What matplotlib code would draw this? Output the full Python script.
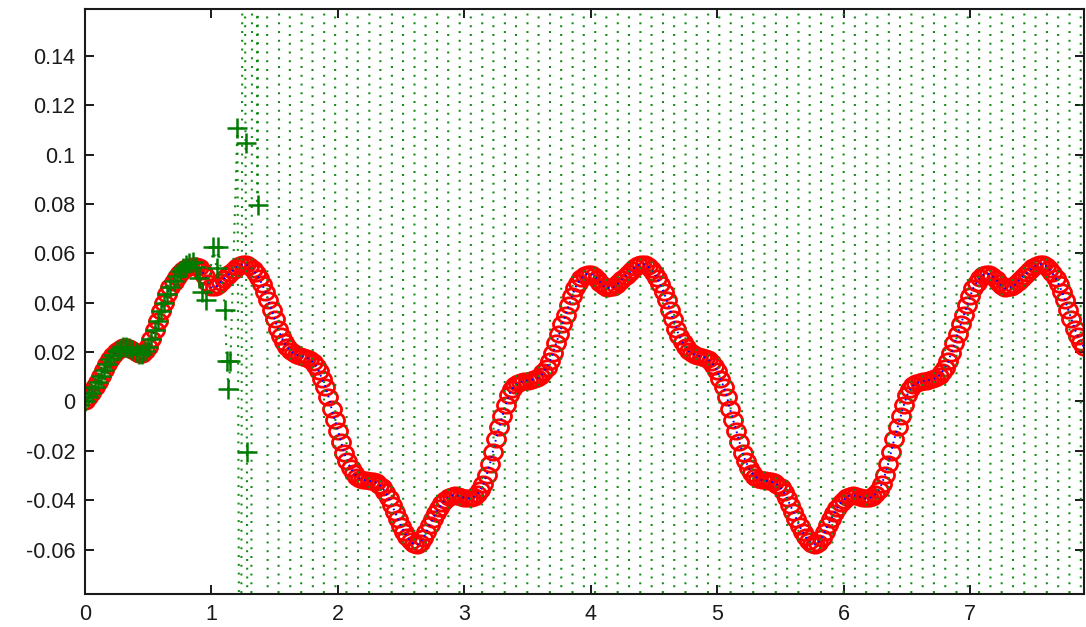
import matplotlib
matplotlib.use('Agg')
import matplotlib.pyplot as plt
import numpy as np
from matplotlib.path import Path
from matplotlib.transforms import Affine2D

plt.rcParams['font.family'] = ['Liberation Sans', 'DejaVu Sans']
plt.rcParams['axes.unicode_minus'] = False
plt.rcParams['lines.scale_dashes'] = False

step = 0.025

# red circles / blue dotted line, x = 0, 0.025, 0.05 ...
# start-up part, x = 0 .. 0.875
y_start = [0.0000, 0.0017, 0.0035, 0.0057, 0.0080, 0.0103, 0.0126, 0.0150,
           0.0172, 0.0190, 0.0204, 0.0214, 0.0219, 0.0220, 0.0217, 0.0210,
           0.0201, 0.0194, 0.0194, 0.0203, 0.0222, 0.0253, 0.0290, 0.0328,
           0.0365, 0.0401, 0.0435, 0.0463, 0.0486, 0.0506, 0.0521, 0.0532,
           0.0540, 0.0546, 0.0550, 0.0549]
# x = 0.9 .. 4.125
y_period1 = [0.0543, 0.0530, 0.0507, 0.0482, 0.0463, 0.0462, 0.0470, 0.0485,
             0.0498, 0.0510, 0.0520, 0.0533, 0.0545, 0.0552, 0.0556, 0.0555,
             0.0548, 0.0535, 0.0520, 0.0500, 0.0475, 0.0445, 0.0410, 0.0372,
             0.0335, 0.0295, 0.0264, 0.0240, 0.0220, 0.0203, 0.0195, 0.0189,
             0.0185, 0.0182, 0.0178, 0.0171, 0.0160, 0.0145, 0.0122, 0.0090,
             0.0060, 0.0020, -0.0030, -0.0075, -0.0118, -0.0165, -0.0210, -0.0243,
             -0.0270, -0.0290, -0.0305, -0.0313, -0.0318, -0.0320, -0.0322, -0.0324,
             -0.0328, -0.0337, -0.0348, -0.0368, -0.0390, -0.0418, -0.0447, -0.0475,
             -0.0505, -0.0530, -0.0550, -0.0566, -0.0577, -0.0580, -0.0572, -0.0553,
             -0.0528, -0.0500, -0.0475, -0.0452, -0.0430, -0.0412, -0.0398, -0.0387,
             -0.0381, -0.0380, -0.0382, -0.0386, -0.0390, -0.0393, -0.0392, -0.0386,
             -0.0375, -0.0360, -0.0335, -0.0298, -0.0255, -0.0203, -0.0152, -0.0105,
             -0.0060, -0.0015, 0.0025, 0.0050, 0.0065, 0.0074, 0.0079, 0.0082,
             0.0085, 0.0087, 0.0090, 0.0094, 0.0103, 0.0118, 0.0137, 0.0163,
             0.0196, 0.0235, 0.0274, 0.0312, 0.0350, 0.0389, 0.0427, 0.0460,
             0.0482, 0.0500, 0.0512, 0.0518, 0.0516, 0.0509, 0.0496, 0.0482,
             0.0468, 0.0458]
# x = 4.15 .. 7.9
y_period2 = [0.0463, 0.0462, 0.0470, 0.0485, 0.0498, 0.0510, 0.0520, 0.0533,
             0.0545, 0.0552, 0.0556, 0.0555, 0.0548, 0.0535, 0.0520, 0.0500,
             0.0475, 0.0445, 0.0410, 0.0372, 0.0335, 0.0295, 0.0264, 0.0240,
             0.0220, 0.0203, 0.0195, 0.0189, 0.0185, 0.0182, 0.0178, 0.0171,
             0.0160, 0.0145, 0.0122, 0.0090, 0.0060, 0.0020, -0.0030, -0.0075,
             -0.0118, -0.0165, -0.0210, -0.0243, -0.0270, -0.0290, -0.0305, -0.0313,
             -0.0318, -0.0320, -0.0322, -0.0324, -0.0328, -0.0337, -0.0348, -0.0368,
             -0.0390, -0.0418, -0.0447, -0.0475, -0.0505, -0.0530, -0.0550, -0.0566,
             -0.0577, -0.0580, -0.0572, -0.0553, -0.0528, -0.0500, -0.0475, -0.0452,
             -0.0430, -0.0412, -0.0398, -0.0387, -0.0381, -0.0380, -0.0382, -0.0386,
             -0.0390, -0.0393, -0.0392, -0.0386, -0.0375, -0.0360, -0.0335, -0.0298,
             -0.0255, -0.0203, -0.0152, -0.0105, -0.0060, -0.0015, 0.0025, 0.0050,
             0.0065, 0.0074, 0.0079, 0.0082, 0.0085, 0.0087, 0.0090, 0.0094,
             0.0103, 0.0118, 0.0137, 0.0163, 0.0196, 0.0235, 0.0274, 0.0312,
             0.0350, 0.0389, 0.0427, 0.0460, 0.0482, 0.0500, 0.0512, 0.0518,
             0.0516, 0.0509, 0.0496, 0.0482, 0.0468, 0.0458,
             0.0463, 0.0462, 0.0470, 0.0485, 0.0498, 0.0510, 0.0520, 0.0533,
             0.0545, 0.0552, 0.0556, 0.0555, 0.0548, 0.0535, 0.0520, 0.0500,
             0.0475, 0.0445, 0.0410, 0.0372, 0.0335, 0.0295, 0.0264, 0.0240,
             0.0220]

red_y = np.array(y_start + y_period1 + y_period2)
red_x = np.arange(len(red_y)) * step

# green + solution: follows the curve, then blows up after x ~ 0.9
green_y_fit = [0.0000, 0.0017, 0.0035, 0.0057, 0.0080, 0.0103, 0.0126, 0.0150,
               0.0172, 0.0190, 0.0204, 0.0214, 0.0219, 0.0220, 0.0217, 0.0210,
               0.0201, 0.0194, 0.0194, 0.0203, 0.0222, 0.0253, 0.0290, 0.0328,
               0.0365, 0.0401, 0.0435, 0.0463, 0.0488, 0.0510, 0.0527, 0.0540,
               0.0552, 0.0562, 0.0566, 0.0545]
green_x_fit = red_x[:len(green_y_fit)]

green_x_kick = [0.900, 0.925, 0.960, 1.015, 1.040, 1.055, 1.108, 1.120, 1.134,
                1.150, 1.205, 1.230, 1.250, 1.269, 1.280, 1.305, 1.335, 1.364]
green_y_kick = [0.0500, 0.0443, 0.0410, 0.0625, 0.0540, 0.0625, 0.0369, 0.0166,
                0.0051, 0.0166, 0.1110, -0.300, 0.400, 0.1046, -0.0206, -0.600,
                0.900, 0.0795]

# off the scale from here on
green_tail_y = [2.4, -2.6, 2.9, -3.1, 3.4, -3.6, 3.9, -4.1, 4.4, -4.6,
                4.9, -5.1, 5.4, -5.6, 5.9, -6.1, 6.4, -6.6, 6.9, -7.1,
                7.4, -7.6, 7.9, -8.1, 8.4, -8.6, 8.9, -9.1, 9.4, -9.6,
                9.9, -10.1, 10.4, -10.6, 10.9, -11.1, 11.4, -11.6, 11.9, -12.1,
                12.4, -12.6, 12.9, -13.1, 13.4, -13.6, 13.9, -14.1, 14.4, -14.6,
                14.9, -15.1, 15.4, -15.6, 15.9, -16.1, 16.4, -16.6, 16.9, -17.1,
                17.4, -17.6, 17.9, -18.1, 18.4, -18.6, 18.9, -19.1, 19.4, -19.6,
                19.9, -20.1, 20.4, -20.6]
green_tail_x = 1.40 + 0.0893 * np.arange(len(green_tail_y))

green_x = np.concatenate([green_x_fit, green_x_kick, green_tail_x])
green_y = np.concatenate([green_y_fit, green_y_kick, green_tail_y])

xticks = [0, 1, 2, 3, 4, 5, 6, 7]
yticks = [-0.06, -0.04, -0.02, 0, 0.02, 0.04, 0.06, 0.08, 0.1, 0.12, 0.14]

fig = plt.figure(figsize=(10.86, 6.27), dpi=100)
ax = fig.add_axes([0.0783, 0.0526, 0.9199, 0.933])

ring = Affine2D().scale(1.0, 0.85).transform_path(Path.unit_circle())
ax.plot(red_x, red_y, linestyle='none', marker=ring, markersize=13,
        markerfacecolor='none', markeredgecolor='#ff0000', markeredgewidth=2.0)
ax.plot(red_x, red_y, color='#0000ff', linewidth=1.4, linestyle=(0, (1.2, 2.8)))
ax.plot(green_x, green_y, color='#108a10', linewidth=1.5, linestyle=(0, (1.4, 4.9)),
        marker='+', markersize=14, markeredgewidth=1.8, markeredgecolor='#007a00')

ax.set_xlim(0, 7.9)
ax.set_ylim(-0.078, 0.159)
ax.set_xticks(xticks)
ax.set_xticklabels(['%g' % v for v in xticks])
ax.set_yticks(yticks)
ax.set_yticklabels(['%g' % v for v in yticks])
ax.tick_params(direction='in', length=6.5, width=1.4, top=True, right=True,
               labelsize=15.5, pad=7, colors='#1a1a1a')
for s in ax.spines.values():
    s.set_linewidth(1.5)
    s.set_color('#1a1a1a')

fig.savefig('out.png', dpi=100)
